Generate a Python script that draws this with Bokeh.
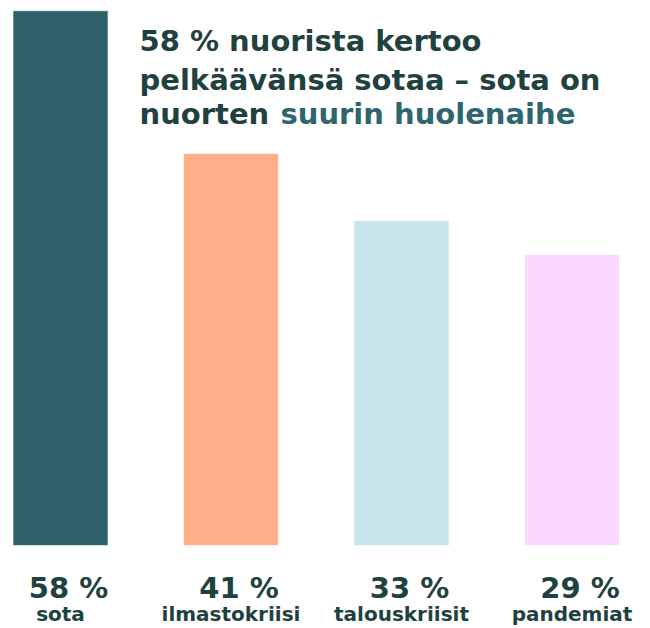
from bokeh.plotting import figure
from bokeh.models import Range1d, ColumnDataSource
from bokeh.embed import file_html
from bokeh.resources import INLINE
from bokeh.core.properties import value

# ---- data ----
categories = ["sota", "ilmastokriisi", "talouskriisit", "pandemiat"]
values = [58, 41, 33, 29]
value_labels = ["58 %", "41 %", "33 %", "29 %"]
colors = ["#2e6168", "#ffb088", "#c8e5eb", "#fbd8fd"]
title_lines = ["58 % nuorista kertoo", "pelkäävänsä sotaa – sota on", "nuorten "]
title_highlight = "suurin huolenaihe"

# ---- layout ----
W, H = 650, 628
PX_PER_UNIT = 8.4          # vertical scale (pixels per percentage point)
BASE = -5.66               # bar baseline value
BOTTOM_PX = 545            # pixel row of bar baseline
Y0 = BASE - (H - BOTTOM_PX) / PX_PER_UNIT
Y1 = Y0 + H / PX_PER_UNIT
STEP = 170.5
FIRST = 60.0
X0 = -FIRST / STEP
X1 = (W - FIRST) / STEP


def ydata(py):
    return Y0 + (H - py) / PX_PER_UNIT


def xdata(px):
    return X0 + px / STEP


p = figure(width=W, height=H, x_range=Range1d(X0, X1), y_range=Range1d(Y0, Y1),
           output_backend="svg", toolbar_location=None, min_border=0,
           background_fill_color="white", border_fill_color="white")
p.axis.visible = False
p.grid.visible = False
p.outline_line_color = None

xs = list(range(len(categories)))
src = ColumnDataSource(dict(x=xs, top=values, color=colors, cat=categories, lab=value_labels))
p.vbar(x="x", top="top", bottom=BASE, width=95 / STEP, fill_color="color",
       line_color="white", line_alpha=0.6, line_width=1, source=src)

DARK = "#1f4240"
TEAL = "#2d6570"
FONT = value("DejaVu Sans")

p.text(x="x", y=ydata(587), text="lab", source=src, text_font=FONT, text_font_size="29px",
       text_font_style="bold", text_color=DARK, text_align="center",
       text_baseline="alphabetic", x_offset=8)
p.text(x="x", y=ydata(613), text="cat", source=src, text_font=FONT, text_font_size="20px",
       text_font_style="bold", text_color=DARK, text_align="center",
       text_baseline="alphabetic")

title_baselines = [40, 79, 113]
for line, py in zip(title_lines, title_baselines):
    p.text(x=[xdata(139)], y=[ydata(py)], text=[line], text_font=FONT, text_font_size="29px",
           text_font_style="bold", text_color=DARK, text_align="left",
           text_baseline="alphabetic")
p.text(x=[xdata(280)], y=[ydata(113)], text=[title_highlight], text_font=FONT,
       text_font_size="29px", text_font_style="bold", text_color=TEAL,
       text_align="left", text_baseline="alphabetic")

open("out.html", "w").write(file_html(p, INLINE))
